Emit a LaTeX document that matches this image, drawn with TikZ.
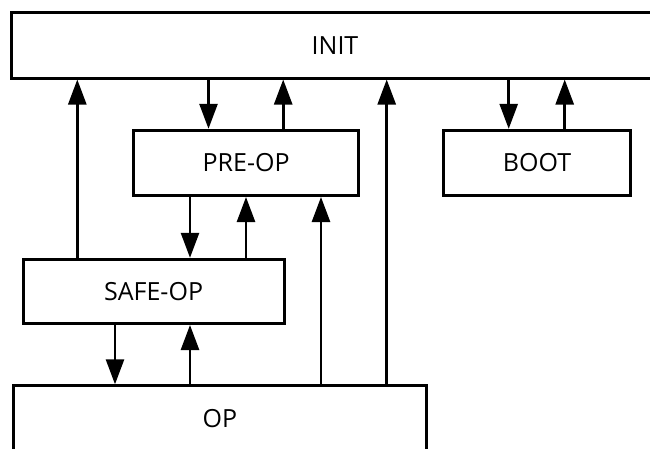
\documentclass[tikz,border=0pt]{standalone}
\usepackage{fontspec}
\setmainfont{Open Sans}
\usetikzlibrary{arrows.meta}
\begin{document}
\begin{tikzpicture}[x=1pt,y=-1pt,
  box/.style={draw,line width=3pt,inner sep=0pt,font=\fontsize{25}{30}\selectfont},
  arr/.style={line width=2.6pt,-{Triangle[length=25pt,width=18pt]}}]
\clip (0,0) rectangle (650,448);
\fill[white] (0,0) rectangle (650,448);
\node[box,minimum width=648pt,minimum height=65.5pt] (INIT) at (335,45.25) {INIT};
\node[box,minimum width=224.8pt,minimum height=65.2pt] (PREOP) at (246.1,162.9) {PRE-OP};
\node[box,minimum width=186.6pt,minimum height=64.7pt] (BOOT) at (537,162.7) {BOOT};
\node[box,minimum width=261.2pt,minimum height=64.2pt] (SAFEOP) at (153.6,291.4) {SAFE-OP};
\node[box,minimum width=412.3pt,minimum height=65.2pt] (OP) at (219.9,418.4) {OP};
\coordinate (xa) at (77.3,0);
\coordinate (xb) at (208.5,0);
\coordinate (xc) at (283.2,0);
\coordinate (xd) at (386.7,0);
\coordinate (xe) at (508.7,0);
\coordinate (xf) at (564.7,0);
\coordinate (xg) at (190,0);
\coordinate (xh) at (246,0);
\coordinate (xi) at (321,0);
\coordinate (xj) at (115,0);
\coordinate (xk) at (190,0);
\draw[arr] (SAFEOP.north -| xa) -- (INIT.south -| xa);
\draw[arr] (INIT.south -| xb) -- (PREOP.north -| xb);
\draw[arr] (PREOP.north -| xc) -- (INIT.south -| xc);
\draw[arr] (OP.north -| xd) -- (INIT.south -| xd);
\draw[arr] (INIT.south -| xe) -- (BOOT.north -| xe);
\draw[arr] (BOOT.north -| xf) -- (INIT.south -| xf);
\draw[arr] (PREOP.south -| xg) -- (SAFEOP.north -| xg);
\draw[arr] (SAFEOP.north -| xh) -- (PREOP.south -| xh);
\draw[arr] (OP.north -| xi) -- (PREOP.south -| xi);
\draw[arr] (SAFEOP.south -| xj) -- (OP.north -| xj);
\draw[arr] (OP.north -| xk) -- (SAFEOP.south -| xk);
\end{tikzpicture}
\end{document}
